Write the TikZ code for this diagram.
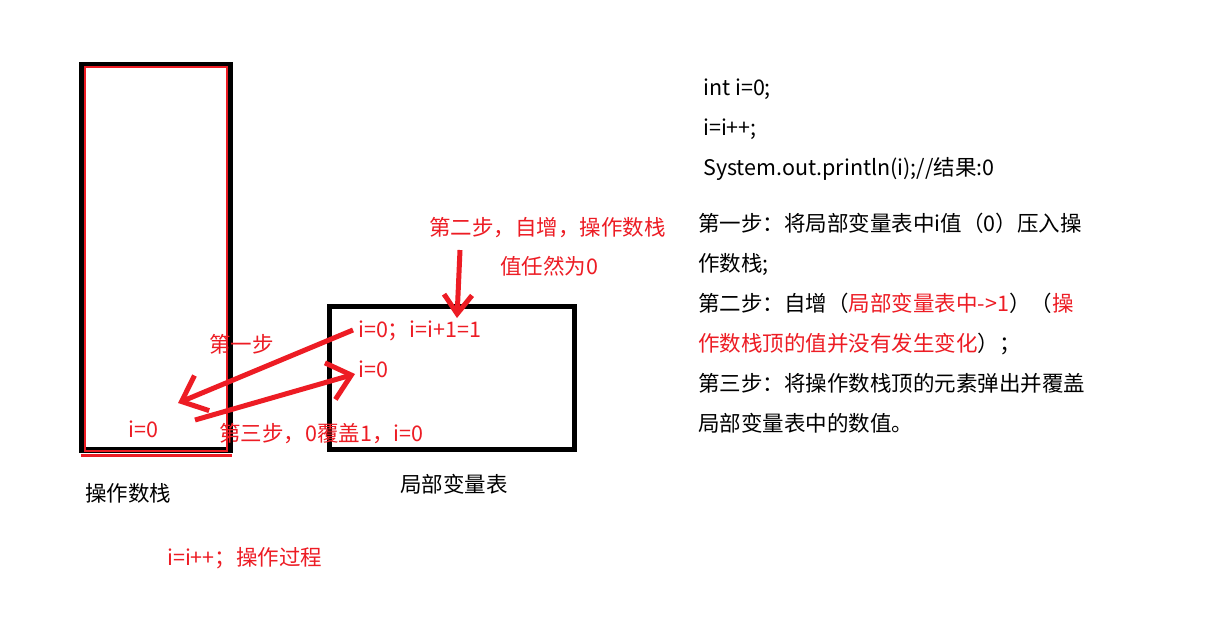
\documentclass[tikz,border=0pt]{standalone}
\usepackage{fontspec}
\setmainfont{Noto Sans CJK SC}
\usetikzlibrary{arrows.meta}
\definecolor{paintred}{RGB}{237,28,36}

\begin{document}
\begin{tikzpicture}[x=1pt,y=-1pt,
        txt/.style={anchor=west,inner sep=0pt,yshift=-4pt,text height=0.8em,text depth=0.2em,font=\fontsize{21.5}{21.5}\selectfont},
        redtxt/.style={txt,text=paintred},
        redarrow/.style={draw=paintred,line width=5pt,-{Straight Barb[length=22pt,width=38pt]}}]
        \useasboundingbox[fill=white] (0,0) rectangle (1220,624);

        \coordinate (SA) at (82,65);
        \coordinate (SB) at (230,450);
        \coordinate (LA) at (329,306);
        \coordinate (LB) at (574,449);
        \coordinate (P1) at (178,403);
        \coordinate (P3) at (195,420);
        \coordinate (Q2) at (460,250);
        \coordinate (P2) at (457,318);

        \draw[line width=6pt]          (SA) rectangle (SB);
        \draw[paintred,line width=2pt] (85,67) rectangle (227,451);
        \draw[paintred,line width=3pt] (81,455) -- (232,455);
        \draw[line width=5pt]          (LA) rectangle (LB);

        \node[redtxt] (step2) at (429,228) {第二步，自增，操作数栈};
        \node[redtxt] (still) at (500,267) {值任然为0};
        \node[redtxt] (top)   at (358,330) {i=0；i=i+1=1};
        \node[redtxt] (mid)   at (358,370) {i=0};
        \node[redtxt] (step1) at (209,345) {第一步};
        \node[redtxt] (stk)   at (128,430) {i=0};
        \node[redtxt] (step3) at (219,434) {第三步，0覆盖1，i=0};
        \node[redtxt] (proc)  at (167,558) {i=i++；操作过程};
        \node[txt]    (opst)  at (85,494)  {操作数栈};
        \node[txt]    (lvt)   at (400,485) {局部变量表};

        \draw[redarrow] ([xshift=-5pt,yshift=4pt]top.west) -- (P1);
        \draw[redarrow] (P3) -- ([xshift=-3pt]mid.west);
        \draw[redarrow,-{Straight Barb[length=19pt,width=28pt]}] (Q2) -- (P2);

        \node[txt] (code1) at (703,88)  {int i=0;};
        \node[txt] (code2) at (703,128) {i=i++;};
        \node[txt] (code3) at (703,168) {System.out.println(i);//结果:0};

        \node[txt] (r1) at (698,224) {第一步：将局部变量表中i值（0）压入操};
        \node[txt] (r2) at (698,264) {作数栈;};
        \node[txt] (r3) at (698,304) {第二步：自增（\textcolor{paintred}{局部变量表中->1}）（\textcolor{paintred}{操}};
        \node[txt] (r4) at (698,344) {\textcolor{paintred}{作数栈顶的值并没有发生变化}）；};
        \node[txt] (r5) at (698,384) {第三步：将操作数栈顶的元素弹出并覆盖};
        \node[txt] (r6) at (698,424) {局部变量表中的数值。};
    \end{tikzpicture}
\end{document}
